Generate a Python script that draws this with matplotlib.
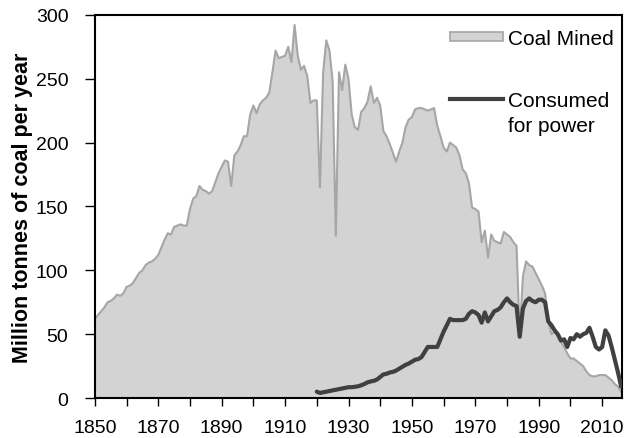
import matplotlib
matplotlib.use("Agg")
import matplotlib.pyplot as plt
from matplotlib.patches import Rectangle
from matplotlib.lines import Line2D
import numpy as np

plt.rcParams['font.family'] = ['Liberation Sans', 'DejaVu Sans']

mined_start = 1850
coal_mined = [
    62, 65, 68, 71, 75, 76, 78, 81, 80, 82,            # 1850-1859
    87, 88, 90, 94, 98, 100, 104, 106, 107, 109,       # 1860-1869
    112, 118, 124, 129, 128, 134, 135, 136, 135, 135,  # 1870-1879
    148, 156, 158, 166, 163, 162, 160, 162, 169, 176,  # 1880-1889
    181, 186, 185, 166, 190, 193, 198, 205, 205, 222,  # 1890-1899
    229, 223, 230, 233, 235, 239, 255, 272, 266, 267,  # 1900-1909
    268, 275, 263, 292, 268, 257, 260, 252, 231, 233,  # 1910-1919
    233, 165, 255, 280, 272, 248, 127, 255, 241, 261,  # 1920-1929
    250, 222, 212, 210, 224, 227, 232, 244, 231, 235,  # 1930-1939
    229, 209, 205, 199, 192, 185, 193, 200, 212, 218,  # 1940-1949
    220, 226, 227, 227, 226, 225, 226, 227, 213, 205,  # 1950-1959
    196, 193, 200, 198, 196, 190, 179, 176, 168, 149,  # 1960-1969
    148, 146, 122, 131, 110, 128, 123, 122, 121, 130,  # 1970-1979
    128, 126, 122, 119, 50, 95, 107, 104, 103, 98,     # 1980-1989
    93, 88, 82, 60, 50, 52, 49, 44, 40, 35,            # 1990-1999
    31, 31, 29, 27, 25, 21, 18, 17, 17, 18,            # 2000-2009
    18, 18, 16, 14, 11, 9, 5,                          # 2010-2016
]

power_start = 1920
coal_power = [
    5, 4, 4.5, 5, 5.5, 6, 6.5, 7, 7.5, 8,              # 1920-1929
    8.5, 8.5, 8.8, 9.2, 10, 11, 12.3, 13, 13.5, 14.5,  # 1930-1939
    16.5, 18.5, 19, 20, 20.5, 21.5, 23, 24.5, 26, 27,  # 1940-1949
    28.5, 30, 30.5, 32, 36, 40, 40, 40, 40, 46,        # 1950-1959
    52, 57, 62, 61, 61, 61, 61, 62, 66, 68,            # 1960-1969
    67, 65, 59, 67, 60, 64, 68, 69, 71, 75,            # 1970-1979
    78, 75, 73, 72, 48, 70, 76, 78, 76, 75,            # 1980-1989
    77, 77, 75, 60, 57, 53, 50, 45, 46, 40,            # 1990-1999
    47, 46, 50, 48, 50, 51, 55, 48, 40, 38,            # 2000-2009
    40, 53, 49, 40, 30, 20, 9,                         # 2010-2016
]

x_ticks = list(range(1850, 2020, 10))
x_labels = [str(y) if (y - 1850) % 20 == 0 else "" for y in x_ticks]
y_ticks = [0, 50, 100, 150, 200, 250, 300]
legend_labels = ['Coal Mined', 'Consumed', 'for power']

years_m = np.arange(mined_start, mined_start + len(coal_mined))
years_p = np.arange(power_start, power_start + len(coal_power))

FILL = '#d3d3d3'
EDGE = '#a6a6a6'
DARK = '#404040'

fig = plt.figure(figsize=(6.24, 4.39), dpi=100)
ax = fig.add_axes([0.152, 0.091, 0.845, 0.873])

ax.fill_between(years_m, coal_mined, 0, facecolor=FILL, edgecolor='none', zorder=1)
ax.plot(years_m, coal_mined, color=EDGE, lw=1.5, zorder=2)
ax.plot(years_p, coal_power, color=DARK, lw=3, zorder=3, solid_capstyle='round')

ax.set_xlim(1850, 2016.3)
ax.set_ylim(0, 300)
ax.set_xticks(x_ticks)
ax.set_xticklabels(x_labels)
ax.set_yticks(y_ticks)
ax.tick_params(direction='out', width=1, labelsize=14, colors='black')
ax.tick_params(axis='x', length=6, pad=9)
ax.tick_params(axis='y', length=7, pad=12)
for s in ax.spines.values():
    s.set_linewidth(1.5)
    s.set_color('black')

ax.set_ylabel('Million tonnes of coal per year', fontsize=15.5, fontweight='bold')
ax.yaxis.set_label_coords(-0.117, 0.5)

# legend drawn manually (handle aligned with first text line)
tr = ax.transAxes
ax.add_patch(Rectangle((0.6736, 0.9321), 0.1006, 0.0235, transform=tr,
                       facecolor=FILL, edgecolor=EDGE, lw=1.2, zorder=5))
ax.text(0.7837, 0.9426, legend_labels[0], transform=tr, fontsize=15,
        ha='left', va='center_baseline', zorder=5)
ax.add_line(Line2D([0.6736, 0.7742], [0.7807, 0.7807], transform=tr,
                   color=DARK, lw=3, zorder=5))
ax.text(0.7837, 0.7807, legend_labels[1], transform=tr, fontsize=15,
        ha='left', va='center_baseline', zorder=5)
ax.text(0.7837, 0.7167, legend_labels[2], transform=tr, fontsize=15,
        ha='left', va='center_baseline', zorder=5)

fig.savefig('out.png', dpi=100)
